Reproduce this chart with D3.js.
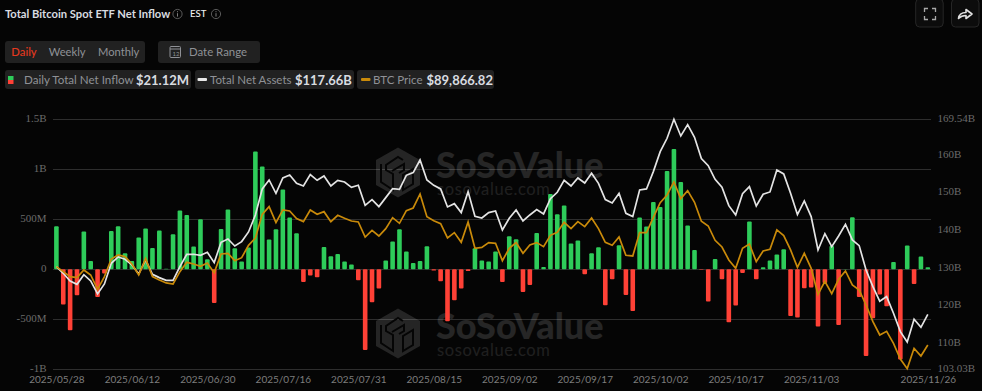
<!DOCTYPE html>
<html>
<head>
<meta charset="utf-8">
<script src="https://cdn.jsdelivr.net/npm/d3@7"></script>
<style>
html, body { margin: 0; padding: 0; background: #050505; overflow: hidden; }
svg { display: block; }
text { font-family: Lato, sans-serif; }
</style>
</head>
<body>
<svg id="chart" width="982" height="391"></svg>
<script>
// net inflow, $M per trading day
var inflow = [430,-353,-610,-260,377,83,-277,-43,383,430,160,83,317,407,213,387,5,350,587,543,227,500,100,-337,403,597,210,77,217,1177,1027,297,400,797,517,360,-127,-63,-80,223,
    130,153,77,47,-110,-807,-330,-193,87,277,400,177,63,83,230,-13,-120,-520,-310,-193,-17,210,87,77,177,-127,330,300,-227,-157,363,23,753,550,637,257,287,-50,160,220,-360,-100,240,-257,-417,517,427,673,
    623,983,1203,873,437,193,-5,-323,103,-100,-530,-363,-37,477,-100,20,87,147,200,-467,-483,-190,-183,-573,-137,233,-557,3,520,-277,-867,-490,-253,-370,73,-903,237,-147,127,21.12];
// total net assets, $B
var assets = [130.34,128.57,126.53,125.64,128.2,126.53,123.07,125.73,131.23,132.92,132.3,130.79,128.39,132.12,128.3,127.42,126.71,126.71,130.34,133.63,133.63,133.36,134.16,131.41,136.82,137.7,135.84,137.0,139.57,144.09,151.01,153.4,149.85,153.93,154.73,152.51,151.8,154.82,153.31,154.47,
    151.8,153.31,152.87,151.45,151.98,146.66,148.17,146.31,148.7,151.1,150.92,154.64,155.35,158.72,153.4,151.98,151.01,146.22,147.1,144.71,150.3,143.73,143.29,144.71,145.15,140.1,143.2,145.42,142.49,144.09,145.51,144.36,148.43,150.12,153.31,151.8,153.93,152.6,155.17,152.51,148.17,147.28,149.85,144.53,143.65,150.74,151.01,155.62,
    160.94,164.49,169.54,165.11,168.12,164.75,159.08,157.21,153.58,151.45,146.57,144.09,149.76,151.63,146.48,149.59,150.21,156.06,155.0,149.85,144.18,147.81,143.65,134.78,139.12,135.66,138.5,141.61,137.44,135.93,129.46,125.02,121.12,122.36,117.93,113.05,110.3,116.33,114.2,117.66];
// BTC price, $K
var btcPrice = [106.56,105.49,104.43,104.21,105.85,104.78,101.73,104.43,108.19,109.04,108.69,107.12,104.78,108.26,104.43,103.72,103.08,102.86,105.49,107.48,107.12,106.63,107.34,105.28,109.25,109.4,107.83,108.47,111.1,112.66,117.7,119.34,115.93,118.63,118.41,116.78,116.14,118.63,117.7,118.27,
    116.14,117.49,116.85,116.28,116.07,112.87,114.29,113.09,114.65,116.99,115.79,118.48,119.05,122.03,117.21,116.35,115.71,112.66,113.8,111.74,116.07,110.46,110.67,111.67,111.53,107.83,110.46,111.67,109.4,111.17,111.67,110.82,113.23,113.87,116.0,114.65,116.14,115.08,116.92,114.65,111.74,111.1,112.87,108.97,108.83,113.8,113.8,117.06,
    120.19,121.82,124.59,121.04,122.74,120.26,116.21,115.22,112.16,110.74,107.98,106.2,110.46,111.38,107.62,109.89,110.25,114.37,113.16,110.11,106.41,109.4,106.2,100.66,103.43,100.8,103.86,105.63,102.65,101.59,98.39,94.84,92.0,92.78,90.23,86.89,84.83,89.16,87.53,89.87];

var xTickIndex = [0,11,22,33,44,55,66,77,88,99,110,127];
var xTickLabels = ["2025/05/28","2025/06/12","2025/06/30","2025/07/16","2025/07/31","2025/08/15","2025/09/02","2025/09/17","2025/10/02","2025/10/17","2025/11/03","2025/11/26"];
var leftTicks = [-1000,-500,0,500,1000,1500];
var leftLabels = ["-1B","-500M","0","500M","1B","1.5B"];
var rightTicks = [103.03,110,120,130,140,150,160,169.54];
var rightLabels = ["103.03B","110B","120B","130B","140B","150B","160B","169.54B"];

var svg = d3.select("#chart");
var x = d3.scaleLinear().domain([0, inflow.length - 1]).range([56.4, 927.8]);
var yLeft = d3.scaleLinear().domain([-1000, 1500]).range([369.3, 119.3]);
var yRight = d3.scaleLinear().domain([103.03, 169.54]).range([369.3, 119.3]);
var yBtc = d3.scaleLinear().domain([84.69, 137.94]).range([369.3, 119.3]);

// ---- header ----
function label(g, px, py, str, size, color, weight) {
    return g.append("text").attr("x", px).attr("y", py).text(str)
        .style("font-size", size + "px").style("fill", color).style("font-weight", weight || 400);
}
function chip(px, py, w, h) {
    svg.append("rect").attr("x", px).attr("y", py).attr("width", w).attr("height", h).attr("rx", 3).attr("fill", "#212121");
}
function infoIcon(cx, cy) {
    svg.append("circle").attr("cx", cx).attr("cy", cy).attr("r", 4.6).attr("fill", "none").attr("stroke", "#6e6e6e").attr("stroke-width", 0.8);
    svg.append("line").attr("x1", cx).attr("x2", cx).attr("y1", cy - 0.8).attr("y2", cy + 2.6).attr("stroke", "#8a8a8a").attr("stroke-width", 0.9);
    svg.append("line").attr("x1", cx).attr("x2", cx).attr("y1", cy - 2.8).attr("y2", cy - 1.8).attr("stroke", "#8a8a8a").attr("stroke-width", 0.9);
}
label(svg, 5, 18, "Total Bitcoin Spot ETF Net Inflow", 11.2, "#d9dce0", 700);
infoIcon(177.5, 14);
label(svg, 190, 16.5, "EST", 9.6, "#f0f0f0", 500);
infoIcon(216, 14);

chip(5, 41, 140, 22);
label(svg, 11.3, 56, "Daily", 11.3, "#e5391f", 500);
label(svg, 48.7, 56, "Weekly", 11.2, "#8f9196");
label(svg, 98, 56, "Monthly", 11.2, "#8f9196");
chip(158, 41, 102, 22);
svg.append("rect").attr("x", 170).attr("y", 46.5).attr("width", 10.5).attr("height", 11).attr("rx", 1).attr("fill", "none").attr("stroke", "#8f9196");
svg.append("line").attr("x1", 170).attr("x2", 180.5).attr("y1", 49).attr("y2", 49).attr("stroke", "#8f9196");
label(svg, 172.5, 56, "12", 6, "#8f9196");
label(svg, 189, 56, "Date Range", 11.4, "#8f9196", 400);

chip(5, 70, 186, 19);
chip(195, 70, 159, 19);
chip(357, 70, 137, 19);
svg.append("rect").attr("x", 8).attr("y", 76).attr("width", 5.5).attr("height", 4).attr("fill", "#2ecc5a");
svg.append("rect").attr("x", 8).attr("y", 80).attr("width", 5.5).attr("height", 4).attr("fill", "#ff4136");
label(svg, 24, 84, "Daily Total Net Inflow", 11.6, "#8f9196");
label(svg, 136, 84.5, "$21.12M", 13, "#d9dce0", 700);
svg.append("rect").attr("x", 197.5).attr("y", 78).attr("width", 9.5).attr("height", 3).attr("rx", 1).attr("fill", "#e8e8e8");
label(svg, 210, 84, "Total Net Assets", 11.5, "#8f9196");
label(svg, 295, 84.5, "$117.66B", 13, "#d9dce0", 700);
svg.append("rect").attr("x", 361).attr("y", 78).attr("width", 9.5).attr("height", 3).attr("rx", 1).attr("fill", "#c98a0a");
label(svg, 373, 84, "BTC Price", 11.5, "#8f9196");
label(svg, 426.5, 84.5, "$89,866.82", 13, "#d9dce0", 700);

// top right buttons
function iconButton(px) {
    svg.append("rect").attr("x", px).attr("y", -1).attr("width", 27.5).attr("height", 28).attr("rx", 4).attr("fill", "#0c0c0c").attr("stroke", "#262626");
}
iconButton(915.7);
iconButton(951.5);
svg.append("path").attr("d", "M924.500 12v-3.500h3.500M932 8.500h3.500v3.500M935.500 16v3.500h-3.500M928 19.500h-3.500v-3.500")
    .attr("fill", "none").attr("stroke", "#a8a8a8").attr("stroke-width", 1.3);
svg.append("path").attr("d", "M958.500 18.500c0.500-4 3.500-6 7.500-6v-3l6 4.500-6 4.500v-3c-3 0-5 0.500-7.500 3z")
    .attr("fill", "none").attr("stroke", "#e0e0e0").attr("stroke-width", 1.6).attr("stroke-linejoin", "round");

// ---- axes ----
var grid = svg.append("g").attr("class", "grid");
grid.selectAll("line").data(leftTicks).enter().append("line")
    .attr("x1", 53).attr("x2", 931)
    .attr("y1", function (d) { return Math.round(yLeft(d)) + 0.5; })
    .attr("y2", function (d) { return Math.round(yLeft(d)) + 0.5; })
    .attr("stroke", "#2e2e2e");

var leftAxis = d3.axisLeft(yLeft).tickValues(leftTicks).tickSize(0).tickPadding(0)
    .tickFormat(function (d, i) { return leftLabels[i]; });
var gl = svg.append("g").attr("transform", "translate(46.5,-1)").call(leftAxis);
gl.select(".domain").remove();
gl.selectAll("text").style("font-family", "'Liberation Serif', serif").style("font-size", "11px").style("fill", "#6b6b6b");

var rightAxis = d3.axisRight(yRight).tickValues(rightTicks).tickSize(0).tickPadding(0)
    .tickFormat(function (d, i) { return rightLabels[i]; });
var gr = svg.append("g").attr("transform", "translate(937.500,-1.300)").call(rightAxis);
gr.select(".domain").remove();
gr.selectAll("text").style("font-family", "'Liberation Serif', serif").style("font-size", "11px").style("fill", "#6b6b6b");

var bottomAxis = d3.axisBottom(x).tickValues(xTickIndex).tickSize(0).tickPadding(0)
    .tickFormat(function (d, i) { return xTickLabels[i]; });
var gb = svg.append("g").attr("transform", "translate(0,375.500)").call(bottomAxis);
gb.select(".domain").remove();
gb.selectAll("text").style("font-size", "10px").style("fill", "#7d7d7d");

// ---- watermark ----
function watermark(dy) {
    var g = svg.append("g").attr("transform", "translate(0," + dy + ")");
    g.append("path").attr("d", "M398 147.500L420 160V185L398 197.500L376 185V160Z").attr("fill", "#fff").attr("opacity", 0.13);
    // cut-outs of the logo
    g.append("path").attr("d", "M381 164V182L393 190V174L386 170V165L398 157L403 160M392 171L404 164V170L399 173")
        .attr("fill", "none").attr("stroke", "#050505").attr("stroke-width", 2);
    g.append("path").attr("d", "M403 190V175L413 169V184Z").attr("fill", "none").attr("stroke", "#050505").attr("stroke-width", 2);
    label(g, 436, 178, "SoSoValue", 36, "#fff", 900).attr("opacity", 0.13);
    label(g, 437, 195, "sosovalue.com", 16.5, "#fff", 400).attr("opacity", 0.1).style("letter-spacing", "0.6px");
}
watermark(0);
watermark(161);

// ---- bars ----
var barW = 4.6;
svg.append("g").selectAll("rect").data(inflow).enter().append("rect")
    .attr("x", function (d, i) { return x(i) - barW / 2; })
    .attr("y", function (d) { return Math.min(yLeft(d), yLeft(0)); })
    .attr("width", barW)
    .attr("height", function (d) { return Math.abs(yLeft(d) - yLeft(0)); })
    .attr("rx", 1)
    .attr("fill", function (d) { return d >= 0 ? "#2ecc5a" : "#ff4136"; });

// ---- lines ----
var assetLine = d3.line().x(function (d, i) { return x(i); }).y(function (d) { return yRight(d); });
var btcLine = d3.line().x(function (d, i) { return x(i); }).y(function (d) { return yBtc(d); });
svg.append("path").datum(assets).attr("d", assetLine).attr("fill", "none").attr("stroke", "#e4e4e4").attr("stroke-width", 1.7);
svg.append("path").datum(btcPrice).attr("d", btcLine).attr("fill", "none").attr("stroke", "#c98a0a").attr("stroke-width", 1.7);
</script>
</body>
</html>
